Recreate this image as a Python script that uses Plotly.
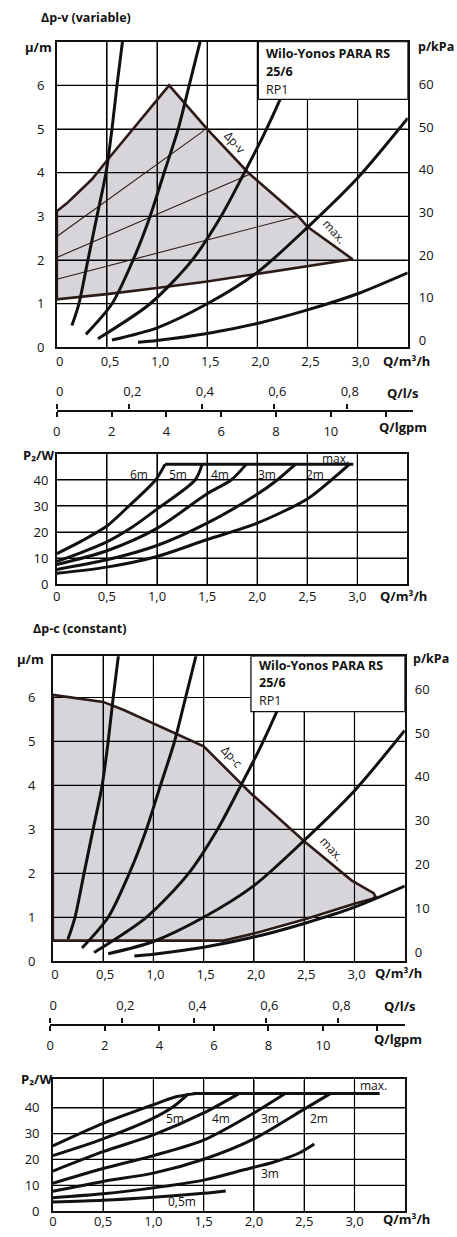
import plotly.graph_objects as go

W, H = 457, 1237
FONT = "Open Sans, Noto Sans, sans-serif"
INK = "#111111"
EDGE = "#2e1b17"
SHADE = "#d8d5da"

# ── ticks and ranges ───────────────────────────────
Q_RANGE = [0, 3.5]
Q_TICKS = [0, 0.5, 1.0, 1.5, 2.0, 2.5, 3.0]
Q_TICKTEXT = ["0", "0,5", "1,0", "1,5", "2,0", "2,5", "3,0"]
H1_RANGE = [0, 7]
H3_RANGE = [0, 6.94]
H_TICKS = [0, 1, 2, 3, 4, 5, 6]
KPA1_RANGE = [-1.6, 70.0]
KPA3_RANGE = [-2.04, 67.5]
KPA_TICKS = [0, 10, 20, 30, 40, 50, 60]
P2_RANGE = [0, 50]
P4_RANGE = [0, 51]
P2_TICKS = [0, 10, 20, 30, 40]
LS_TICKS = [0, 0.2, 0.4, 0.6, 0.8]
LS_TICKTEXT = ["0", "0,2", "0,4", "0,6", "0,8"]
LGPM_TICKS = [0, 2, 4, 6, 8, 10, 12]
LGPM_TICKTEXT = ["0", "2", "4", "6", "8", "10", ""]

# ── system curves, head (m) over flow (m³/h) ───────
SYS_A_Q = [0.15, 0.22, 0.31, 0.40, 0.49, 0.55, 0.60, 0.66]
SYS_A_H = [0.50, 1.00, 2.00, 3.00, 4.00, 5.00, 6.00, 7.10]
SYS_B_Q = [0.29, 0.55, 0.76, 0.93, 1.07, 1.21, 1.32, 1.44]
SYS_B_H = [0.30, 1.00, 2.00, 3.00, 4.00, 5.00, 6.00, 7.10]
SYS_C_Q = [0.41, 0.93, 1.35, 1.65, 1.87, 2.06, 2.25, 2.45]
SYS_C_H = [0.20, 1.00, 2.00, 3.05, 4.00, 4.85, 5.80, 6.90]
SYS_D_Q = [0.55, 1.0, 1.5, 2.0, 2.5, 3.0, 3.5]
SYS_D_H = [0.17, 0.45, 1.00, 1.72, 2.75, 3.88, 5.25]
SYS_E_Q = [0.81, 1.0, 1.5, 2.0, 2.5, 3.0, 3.5]
SYS_E_H = [0.12, 0.16, 0.32, 0.55, 0.86, 1.23, 1.71]
SYSTEM = [(SYS_A_Q, SYS_A_H), (SYS_B_Q, SYS_B_H), (SYS_C_Q, SYS_C_H),
          (SYS_D_Q, SYS_D_H), (SYS_E_Q, SYS_E_H)]

# ── Δp-v field ─────────────────────────────────────
DPV_UPPER_Q = [0, 0.1, 0.2, 0.35, 0.5, 0.8, 1.12, 1.5, 1.91, 2.41, 2.5, 2.95]
DPV_UPPER_H = [3.12, 3.30, 3.52, 3.85, 4.28, 5.10, 6.00, 5.00, 4.00, 3.00, 2.76, 2.02]
DPV_LOWER_Q = [0, 0.5, 1.0, 1.5, 2.0, 2.5, 2.95]
DPV_LOWER_H = [1.10, 1.22, 1.36, 1.51, 1.68, 1.86, 2.02]
DPV_SET_Q = [[0, 1.47], [0, 1.93], [0, 2.40]]
DPV_SET_H = [[2.54, 4.97], [2.06, 3.97], [1.56, 3.00]]

# ── Δp-c field ─────────────────────────────────────
DPC_UPPER_Q = [0, 0.5, 0.7, 1.0, 1.5, 1.96, 2.5, 2.97, 3.10, 3.19, 3.21, 3.18]
DPC_UPPER_H = [6.06, 5.90, 5.72, 5.41, 4.89, 3.84, 2.73, 1.84, 1.66, 1.55, 1.47, 1.42]
DPC_LOWER_Q = [0, 1.7, 2.0, 2.5, 3.0, 3.18]
DPC_LOWER_H = [0.47, 0.47, 0.63, 0.95, 1.31, 1.42]

# ── P2 power, Δp-v ─────────────────────────────────
P2V_MAX_Q = [1.08, 2.96]
P2V_MAX_W = [46, 46]
P2V_6M_Q = [0, 0.25, 0.5, 0.72, 0.985, 1.08]
P2V_6M_W = [11.7, 16.6, 22.3, 30.0, 40.0, 46.0]
P2V_5M_Q = [0, 0.25, 0.5, 0.75, 1.0, 1.38, 1.45]
P2V_5M_W = [8.7, 12.2, 16.2, 21.8, 28.8, 40.0, 46.0]
P2V_4M_Q = [0, 0.5, 1.0, 1.5, 1.74, 1.89]
P2V_4M_W = [7.5, 12.8, 21.4, 34.7, 40.0, 46.0]
P2V_3M_Q = [0, 0.5, 1.0, 1.5, 2.0, 2.2, 2.38]
P2V_3M_W = [5.6, 9.3, 14.8, 23.4, 34.5, 40.0, 46.0]
P2V_2M_Q = [0, 0.5, 1.0, 1.5, 2.0, 2.5, 2.74, 2.92]
P2V_2M_W = [4.1, 6.5, 10.6, 17.1, 23.4, 32.7, 40.0, 46.0]
P2V_CURVES = [(P2V_6M_Q, P2V_6M_W), (P2V_5M_Q, P2V_5M_W), (P2V_4M_Q, P2V_4M_W),
              (P2V_3M_Q, P2V_3M_W), (P2V_2M_Q, P2V_2M_W)]

# ── P2 power, Δp-c ─────────────────────────────────
P2C_MAX_Q = [1.40, 3.25]
P2C_MAX_W = [45.5, 45.5]
P2C_6M_Q = [0, 0.5, 1.0, 1.2, 1.42]
P2C_6M_W = [25.3, 34.0, 41.2, 44.0, 45.5]
P2C_5M_Q = [0, 0.5, 1.0, 1.2, 1.35]
P2C_5M_W = [21.5, 28.0, 36.0, 40.5, 45.5]
P2C_4M_Q = [0, 0.5, 1.0, 1.5, 1.85]
P2C_4M_W = [15.5, 23.0, 29.5, 38.0, 45.5]
P2C_3M_Q = [0, 0.5, 1.0, 1.5, 2.0, 2.31]
P2C_3M_W = [10.8, 16.5, 21.5, 27.5, 38.0, 45.5]
P2C_2M_Q = [0, 0.5, 1.0, 1.5, 2.0, 2.5, 2.76]
P2C_2M_W = [7.7, 11.5, 14.7, 20.1, 28.0, 39.5, 45.5]
P2C_1M_Q = [0, 0.5, 1.0, 1.5, 1.9, 2.2, 2.45, 2.6]
P2C_1M_W = [5.2, 6.7, 9.0, 12.0, 16.0, 19.0, 22.5, 26.0]
P2C_05M_Q = [0, 0.5, 1.0, 1.5, 1.72]
P2C_05M_W = [3.5, 4.2, 5.4, 6.9, 7.8]
P2C_CURVES = [(P2C_6M_Q, P2C_6M_W), (P2C_5M_Q, P2C_5M_W), (P2C_4M_Q, P2C_4M_W),
              (P2C_3M_Q, P2C_3M_W), (P2C_2M_Q, P2C_2M_W), (P2C_1M_Q, P2C_1M_W),
              (P2C_05M_Q, P2C_05M_W)]


def px(x):
    return x / W


def py(y):
    return 1 - y / H


def dom_x(a, b):
    return [px(a), px(b)]


def dom_y(top, bottom):
    return [py(bottom), py(top)]


def frame_axis(**kw):
    base = dict(showline=True, mirror=True, linecolor=INK, linewidth=1.5,
                showgrid=True, gridcolor="#000000", gridwidth=1, zeroline=False,
                ticks="", tickfont=dict(family=FONT, size=13, color=INK), fixedrange=True)
    base.update(kw)
    return base


def flow_axis(**kw):
    base = dict(showline=True, linecolor=INK, linewidth=1.5, showgrid=False, zeroline=False,
                ticks="outside", ticklen=5, tickwidth=1.5, tickcolor=INK,
                tickfont=dict(family=FONT, size=13, color=INK), fixedrange=True)
    base.update(kw)
    return base


def line(xs, ys, xa, ya, color=INK, width=3, shape="spline"):
    return go.Scatter(x=xs, y=ys, xaxis=xa, yaxis=ya, mode="lines",
                      line=dict(color=color, width=width, shape=shape, smoothing=0.8),
                      hoverinfo="skip", showlegend=False)


def poly_path(qs, hs):
    return "M " + " L ".join(f"{q},{h}" for q, h in zip(qs, hs)) + " Z"


def grid(xa, ya, xvals, yvals, xr, yr):
    # grid lines on the axes' own scales, over the shaded field and under the traces
    out = []
    for v in xvals:
        out.append(dict(type="line", xref=xa, yref=ya, x0=v, x1=v, y0=yr[0], y1=yr[1],
                        layer="below", line=dict(color="#000000", width=1.2)))
    for v in yvals:
        out.append(dict(type="line", xref=xa, yref=ya, x0=xr[0], x1=xr[1], y0=v, y1=v,
                        layer="below", line=dict(color="#000000", width=1.2)))
    return out


fig = go.Figure()

# ── panel 1: Δp-v head ─────────────────────────────
dpv_q = DPV_UPPER_Q + DPV_LOWER_Q[::-1] + [DPV_UPPER_Q[0]]
dpv_h = DPV_UPPER_H + DPV_LOWER_H[::-1] + [DPV_UPPER_H[0]]
for qs, hs in zip(DPV_SET_Q, DPV_SET_H):
    fig.add_trace(line(qs, hs, "x", "y", color=EDGE, width=1.1, shape="linear"))
fig.add_trace(line(dpv_q, dpv_h, "x", "y", color=EDGE, width=2.6, shape="linear"))
for qs, hs in SYSTEM:
    fig.add_trace(line(qs, hs, "x", "y"))
fig.add_trace(go.Scatter(x=[], y=[], xaxis="x", yaxis="y2", showlegend=False))

# ── panel 2: P2 Δp-v ───────────────────────────────
for qs, ws in P2V_CURVES:
    fig.add_trace(line(qs, ws, "x2", "y3"))
fig.add_trace(line(P2V_MAX_Q, P2V_MAX_W, "x2", "y3", shape="linear"))

# ── panel 3: Δp-c head ─────────────────────────────
dpc_q = DPC_UPPER_Q + DPC_LOWER_Q[::-1] + [DPC_UPPER_Q[0]]
dpc_h = DPC_UPPER_H + DPC_LOWER_H[::-1] + [DPC_UPPER_H[0]]
fig.add_trace(line(dpc_q, dpc_h, "x3", "y4", color=EDGE, width=2.6, shape="linear"))
for qs, hs in SYSTEM:
    fig.add_trace(line(qs, hs, "x3", "y4"))
fig.add_trace(go.Scatter(x=[], y=[], xaxis="x3", yaxis="y5", showlegend=False))

# ── panel 4: P2 Δp-c ───────────────────────────────
for qs, ws in P2C_CURVES:
    fig.add_trace(line(qs, ws, "x4", "y6"))
fig.add_trace(line(P2C_MAX_Q, P2C_MAX_W, "x4", "y6", shape="linear"))

# flow scales (dummy traces so the subplots exist)
for xa, ya in [("x5", "y7"), ("x6", "y7"), ("x7", "y8"), ("x8", "y8")]:
    fig.add_trace(go.Scatter(x=[], y=[], xaxis=xa, yaxis=ya, showlegend=False))

shapes = [
    dict(type="path", path=poly_path(dpv_q, dpv_h), xref="x", yref="y", layer="below",
         fillcolor=SHADE, line=dict(width=0)),
    dict(type="path", path=poly_path(dpc_q, dpc_h), xref="x3", yref="y4", layer="below",
         fillcolor=SHADE, line=dict(width=0)),
]
shapes += grid("x", "y", Q_TICKS[1:], H_TICKS[1:], Q_RANGE, H1_RANGE)
shapes += grid("x2", "y3", Q_TICKS[1:], P2_TICKS[1:], Q_RANGE, P2_RANGE)
shapes += grid("x3", "y4", Q_TICKS[1:], H_TICKS[1:], Q_RANGE, H3_RANGE)
shapes += grid("x4", "y6", Q_TICKS[1:], P2_TICKS[1:], Q_RANGE, P4_RANGE)
shapes += [
    dict(type="rect", x0=2.01, x1=3.5, y0=5.68, y1=7, xref="x", yref="y", layer="above",
         fillcolor="white", line=dict(color=INK, width=1.3)),
    dict(type="rect", x0=1.97, x1=3.5, y0=5.68, y1=6.94, xref="x3", yref="y4", layer="above",
         fillcolor="white", line=dict(color=INK, width=1.3)),
]


def note(text, x, y, xref="paper", yref="paper", size=12.5, xanchor="center", angle=0):
    if xref == "paper":
        x, y = px(x), py(y)
    return dict(text=text, x=x, y=y, xref=xref, yref=yref, showarrow=False, textangle=angle,
                xanchor=xanchor, yanchor="middle", font=dict(family=FONT, size=size, color=INK))


ann = [
    # panel 1
    note("<b>Δp-v (variable)</b>", 35, 18, xanchor="left"),
    note("<b>μ/m</b>", 50, 47, size=13, xanchor="right"),
    note("<b>p/kPa</b>", 456, 47, size=12.5, xanchor="right"),
    note("<b>Q/m³/h</b>", 380, 364, size=13, xanchor="left"),
    note("<b>Wilo-Yonos PARA RS</b>", 262, 53.5, xanchor="left"),
    note("<b>25/6</b>", 262, 72, xanchor="left"),
    note("RP1", 262, 90, xanchor="left"),
    note("Δp-v", 1.78, 4.70, "x", "y", size=12, angle=48),
    note("max.", 2.77, 2.66, "x", "y", size=12, angle=48),
    note("<b>Q/l/s</b>", 403, 396, size=13),
    note("<b>Q/lgpm</b>", 403, 430, size=13),
    # panel 2
    note("<b>P₂/W</b>", 17, 458, size=13, xanchor="left"),
    note("<b>Q/m³/h</b>", 377, 600, size=13, xanchor="left"),
    note("6m", 0.82, 42.3, "x2", "y3", size=12),
    note("5m", 1.21, 42.3, "x2", "y3", size=12),
    note("4m", 1.63, 42.3, "x2", "y3", size=12),
    note("3m", 2.10, 42.3, "x2", "y3", size=12),
    note("2m", 2.58, 42.3, "x2", "y3", size=12),
    note("max.", 2.78, 48.3, "x2", "y3", size=12),
    # panel 3
    note("<b>Δp-c (constant)</b>", 27, 633, xanchor="left"),
    note("<b>μ/m</b>", 42, 664, size=13, xanchor="right"),
    note("<b>p/kPa</b>", 451, 663, size=12.5, xanchor="right"),
    note("<b>Q/m³/h</b>", 372, 980, size=13, xanchor="left"),
    note("<b>Wilo-Yonos PARA RS</b>", 255, 670, xanchor="left"),
    note("<b>25/6</b>", 255, 687.5, xanchor="left"),
    note("RP1", 255, 705.5, xanchor="left"),
    note("Δp-c", 1.78, 4.66, "x3", "y4", size=12, angle=48),
    note("max.", 2.77, 2.56, "x3", "y4", size=12, angle=48),
    note("<b>Q/l/s</b>", 399, 1013, size=13),
    note("<b>Q/lgpm</b>", 397, 1047, size=13),
    # panel 4
    note("<b>P₂/W</b>", 15, 1087, size=13, xanchor="left"),
    note("<b>Q/m³/h</b>", 380, 1228, size=13, xanchor="left"),
    note("5m", 1.21, 35.7, "x4", "y6", size=12),
    note("4m", 1.67, 35.7, "x4", "y6", size=12),
    note("3m", 2.16, 35.9, "x4", "y6", size=12),
    note("2m", 2.65, 35.9, "x4", "y6", size=12),
    note("3m", 2.16, 14.7, "x4", "y6", size=12),
    note("0,5m", 1.28, 3.6, "x4", "y6", size=12),
    note("max.", 3.19, 48.5, "x4", "y6", size=12),
]

fl1 = py(413.3)
fl2 = py(1031.7)

fig.update_layout(
    width=W, height=H,
    margin=dict(l=0, r=0, t=0, b=0),
    paper_bgcolor="white", plot_bgcolor="white",
    showlegend=False,
    shapes=shapes, annotations=ann,
    # panel 1
    xaxis=frame_axis(domain=dom_x(53.3, 407.3), anchor="y", range=Q_RANGE,
                     tickvals=Q_TICKS, ticktext=Q_TICKTEXT, ticklabelstandoff=1, ticklabelshift=3),
    yaxis=frame_axis(domain=dom_y(42, 350), anchor="x", range=H1_RANGE,
                     tickvals=H_TICKS, ticklabelstandoff=8),
    yaxis2=dict(overlaying="y", side="right", anchor="x", range=KPA1_RANGE,
                tickvals=KPA_TICKS, showgrid=False, showline=False, zeroline=False,
                ticklabelstandoff=10, fixedrange=True,
                tickfont=dict(family=FONT, size=13, color=INK)),
    # panel 2
    xaxis2=frame_axis(domain=dom_x(53.3, 407.0), anchor="y3", range=Q_RANGE,
                      tickvals=Q_TICKS, ticktext=Q_TICKTEXT, ticklabelstandoff=0),
    yaxis3=frame_axis(domain=dom_y(457.3, 588.3), anchor="x2", range=P2_RANGE,
                      tickvals=P2_TICKS, ticklabelstandoff=4),
    # panel 3
    xaxis3=frame_axis(domain=dom_x(49.3, 404.3), anchor="y4", range=Q_RANGE,
                      tickvals=Q_TICKS, ticktext=Q_TICKTEXT, ticklabelstandoff=0, ticklabelshift=2),
    yaxis4=frame_axis(domain=dom_y(661, 968.3), anchor="x3", range=H3_RANGE,
                      tickvals=H_TICKS, ticklabelstandoff=13),
    yaxis5=dict(overlaying="y4", side="right", anchor="x3", range=KPA3_RANGE,
                tickvals=KPA_TICKS, showgrid=False, showline=False, zeroline=False,
                ticklabelstandoff=9, fixedrange=True,
                tickfont=dict(family=FONT, size=13, color=INK)),
    # panel 4
    xaxis4=frame_axis(domain=dom_x(49.3, 404.3), anchor="y6", range=Q_RANGE,
                      tickvals=Q_TICKS, ticktext=Q_TICKTEXT, ticklabelstandoff=-2),
    yaxis6=frame_axis(domain=dom_y(1087.3, 1220), anchor="x4", range=P4_RANGE,
                      tickvals=P2_TICKS, ticklabelstandoff=9),
    # flow scale 1
    yaxis7=dict(domain=[fl1, fl1 + 0.0004], anchor="x5", visible=False, range=[0, 1]),
    xaxis5=flow_axis(domain=dom_x(53.3, 412.7), anchor="y7", side="bottom", range=[0, 13.0],
                     tickvals=LGPM_TICKS, ticktext=LGPM_TICKTEXT, ticklabelstandoff=3),
    xaxis6=flow_axis(overlaying="x5", anchor="y7", side="top", range=[0, 0.983], showline=False,
                     tickvals=LS_TICKS, ticktext=LS_TICKTEXT, ticklabelstandoff=3, ticklabelshift=3),
    # flow scale 2
    yaxis8=dict(domain=[fl2, fl2 + 0.0004], anchor="x7", visible=False, range=[0, 1]),
    xaxis7=flow_axis(domain=dom_x(46.7, 404.3), anchor="y8", side="bottom", range=[0, 13.0],
                     tickvals=LGPM_TICKS, ticktext=LGPM_TICKTEXT, ticklabelstandoff=3),
    xaxis8=flow_axis(overlaying="x7", anchor="y8", side="top", range=[0, 0.984], showline=False,
                     tickvals=LS_TICKS, ticktext=LS_TICKTEXT, ticklabelstandoff=3, ticklabelshift=3),
)

# drop the page's default body margin so the figure sits at the window's corner
fig.write_html("out.html", config={"displayModeBar": False},
               post_script="document.body.style.margin = '0';")
